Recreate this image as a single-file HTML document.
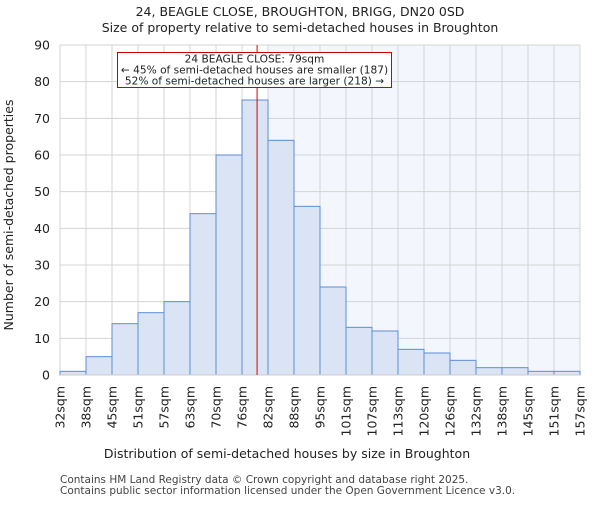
<!DOCTYPE html>
<html><head><meta charset="utf-8"><style>
body{margin:0;background:#fff;}
svg{font-family:"DejaVu Sans","Liberation Sans",sans-serif;}
</style></head><body>
<svg id="c" width="600" height="500" xmlns="http://www.w3.org/2000/svg">
<text x="300" y="16" text-anchor="middle" font-size="12.5" fill="#222">24, BEAGLE CLOSE, BROUGHTON, BRIGG, DN20 0SD</text>
<text x="300" y="32" text-anchor="middle" font-size="12.5" fill="#222">Size of property relative to semi-detached houses in Broughton</text>
<g id="plot"></g>
<text x="287" y="458" text-anchor="middle" font-size="12.5" fill="#222">Distribution of semi-detached houses by size in Broughton</text>
<text transform="translate(13,215) rotate(-90)" text-anchor="middle" font-size="12.5" fill="#222">Number of semi-detached properties</text>
<text x="60" y="483" font-size="10.5" fill="#444">Contains HM Land Registry data © Crown copyright and database right 2025.</text>
<text x="60" y="494" font-size="10.5" fill="#444">Contains public sector information licensed under the Open Government Licence v3.0.</text>
</svg>
<script>
const binLabels=["32sqm","38sqm","45sqm","51sqm","57sqm","63sqm","70sqm","76sqm","82sqm","88sqm","95sqm","101sqm","107sqm","113sqm","120sqm","126sqm","132sqm","138sqm","145sqm","151sqm","157sqm"];
const counts=[1,5,14,17,20,44,60,75,64,46,24,13,12,7,6,4,2,2,1,1];
const yTicks=[0,10,20,30,40,50,60,70,80,90];
const propertyBin=7.58;
const shadeFromBin=8;
const L=60,R=580,T=45,B=375,yMax=90;
const NS="http://www.w3.org/2000/svg";
const g=document.getElementById('plot');
const bw=(R-L)/counts.length;
const xs=i=>L+i*bw, ys=v=>B-(v/yMax)*(B-T);
function el(t,a){const e=document.createElementNS(NS,t);for(const k in a)e.setAttribute(k,a[k]);g.appendChild(e);return e;}
let sh=el('rect',{x:xs(shadeFromBin),y:T,width:R-xs(shadeFromBin),height:B-T,fill:'#f3f6fd'});


yTicks.forEach(v=>{
 let l=el('line',{x1:L,x2:R,y1:ys(v),y2:ys(v),stroke:'#d4d4d4','stroke-width':1});
 
 
 let t=el('text',{x:L-10,y:ys(v)+4.5,'text-anchor':'end','font-size':'12.5',fill:'#222'});t.textContent=v;
 
 
});
binLabels.forEach((s,i)=>{
 let l=el('line',{x1:xs(i),x2:xs(i),y1:T,y2:B,stroke:'#d4d4d4','stroke-width':1});
 
 
 let t=el('text',{transform:`translate(${xs(i)+4.5},386) rotate(-90)`,'text-anchor':'end','font-size':'12.5',fill:'#222'});t.textContent=s;
 
 
});
counts.forEach((v,i)=>{
 let r=el('rect',{x:xs(i),y:ys(v),width:bw,height:B-ys(v),fill:'#dae4f4',stroke:'#5b8fd6','stroke-width':1});
 
 
});
let ax=el('line',{x1:L,x2:R,y1:B,y2:B,stroke:'#ccc'});


const px=xs(propertyBin);
let ml=el('line',{x1:px,x2:px,y1:T,y2:B,stroke:'#d00','stroke-width':1});


let box=el('rect',{x:117.5,y:52.5,width:274,height:35,fill:'#fff',stroke:'#c00','stroke-width':1});


["24 BEAGLE CLOSE: 79sqm","← 45% of semi-detached houses are smaller (187)","52% of semi-detached houses are larger (218) →"].forEach((s,i)=>{
 let t=el('text',{x:254.5,y:62.5+i*11,'text-anchor':'middle','font-size':'10.6',fill:'#222'});t.textContent=s;
 
 
});
</script>
</body></html>
